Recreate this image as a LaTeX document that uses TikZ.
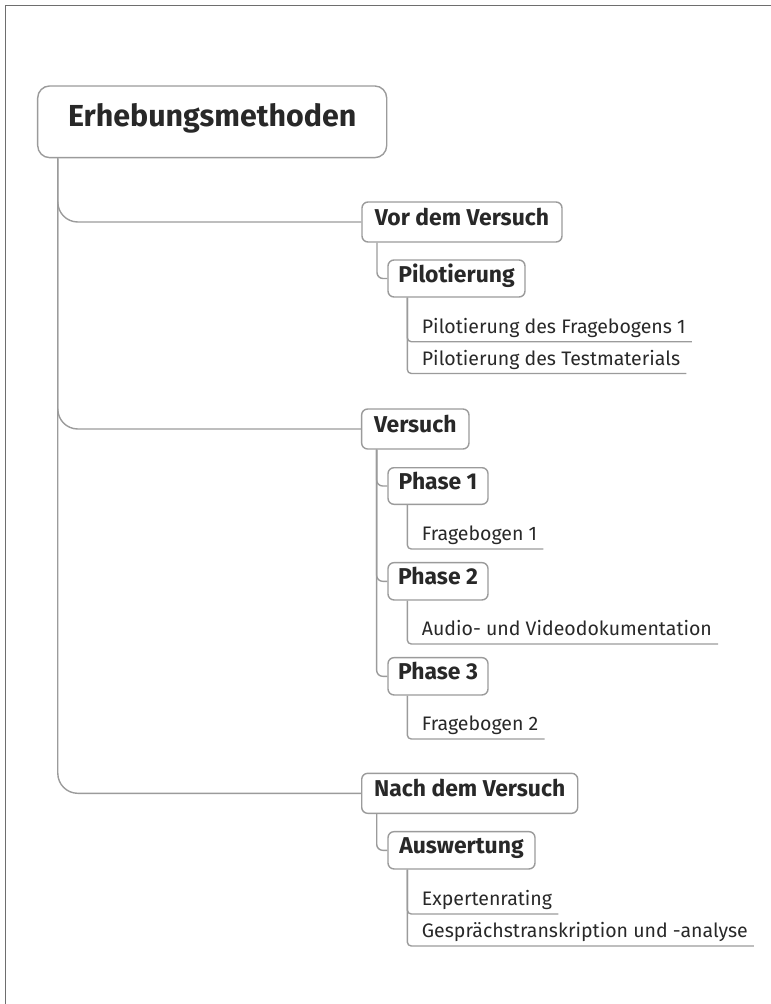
\documentclass[tikz,border=0pt]{standalone}
\usepackage{fontspec}
\setmainfont{Fira Sans}
\usetikzlibrary{calc}
\definecolor{linegray}{RGB}{155,155,155}
\definecolor{framegray}{RGB}{110,110,110}
\definecolor{txt}{RGB}{40,40,40}
\begin{document}
\begin{tikzpicture}[x=1bp,y=-1bp,
  box/.style={draw=linegray, line width=1.4bp, fill=white, text=txt, inner sep=0pt},
  rootbox/.style={box, rounded corners=12bp, minimum height=71.7bp, font=\fontsize{30.5}{36}\selectfont\bfseries, text height=21bp, text depth=11bp},
  midbox/.style={box, rounded corners=6bp, font=\fontsize{23}{27}\selectfont\bfseries, text height=15bp, text depth=8bp},
  leaf/.style={anchor=base west, inner sep=0pt, text=txt, font=\fontsize{19.6}{23}\selectfont},
  conn/.style={draw=linegray, line width=1.4bp},
]
\useasboundingbox (0,0) rectangle (771,1004);
\draw[draw=framegray, line width=1.5bp] (5.5,1004) -- (5.5,5.5) -- (771,5.5);

% boxes
\node[rootbox, minimum width=349bp] (root) at (212.2,121.8) {Erhebungsmethoden};
\node[midbox, minimum width=200bp, minimum height=40bp] (vor) at (462,222) {Vor dem Versuch};
\node[midbox, minimum width=137bp, minimum height=37bp] (pil) at (456.5,278.5) {Pilotierung};
\node[midbox, minimum width=107.3bp, minimum height=40bp] (vers) at (415.3,429) {Versuch};
\node[midbox, minimum width=100bp, minimum height=36.6bp] (ph1) at (438,486) {Phase 1};
\node[midbox, minimum width=100bp, minimum height=37.3bp] (ph2) at (438,581.3) {Phase 2};
\node[midbox, minimum width=100bp, minimum height=37.3bp] (ph3) at (438,676.3) {Phase 3};
\node[midbox, minimum width=216bp, minimum height=40bp] (nach) at (469.7,793.3) {Nach dem Versuch};
\node[midbox, minimum width=147bp, minimum height=37.3bp] (ausw) at (461.5,850.3) {Auswertung};

% leaves
\node[leaf] (l1) at (421.7,333.4) {Pilotierung des Fragebogens 1};
\node[leaf] (l2) at (421.7,365.2) {Pilotierung des Testmaterials};
\node[leaf] (l3) at (421.7,540.7) {Fragebogen 1};
\node[leaf] (l4) at (421.7,635.7) {Audio- und Videodokumentation};
\node[leaf] (l5) at (421.7,730.7) {Fragebogen 2};
\node[leaf] (l6) at (421.7,905.7) {Expertenrating};
\node[leaf] (l7) at (421.7,937.7) {Gesprächstranskription und -analyse};
\foreach \l in {l1,l2,l3,l4,l5,l6,l7} {
  \coordinate (\l e) at ($(\l.base east)+(6,8.3)$);
}

% trunk
\coordinate (rt) at ($(root.south west)+(20.8,0)$);
\foreach \c in {vor,vers,nach} {
  \draw[conn, rounded corners=20bp] (rt) |- (\c.west);
}
% second level
\draw[conn, rounded corners=6bp] ($(vor.south west)+(15.7,0)$) |- (pil.west);
\foreach \c in {ph1,ph2,ph3} {
  \draw[conn, rounded corners=6bp] ($(vers.south west)+(15.7,0)$) |- (\c.west);
}
\draw[conn, rounded corners=6bp] ($(nach.south west)+(15.7,0)$) |- (ausw.west);
% leaves
\draw[conn, rounded corners=4bp] ($(pil.south west)+(20,0)$) |- (l1e);
\draw[conn, rounded corners=4bp] ($(pil.south west)+(20,0)$) |- (l2e);
\draw[conn, rounded corners=4bp] ($(ph1.south west)+(20,0)$) |- (l3e);
\draw[conn, rounded corners=4bp] ($(ph2.south west)+(20,0)$) |- (l4e);
\draw[conn, rounded corners=4bp] ($(ph3.south west)+(20,0)$) |- (l5e);
\draw[conn, rounded corners=4bp] ($(ausw.south west)+(20,0)$) |- (l6e);
\draw[conn, rounded corners=4bp] ($(ausw.south west)+(20,0)$) |- (l7e);
\end{tikzpicture}
\end{document}
